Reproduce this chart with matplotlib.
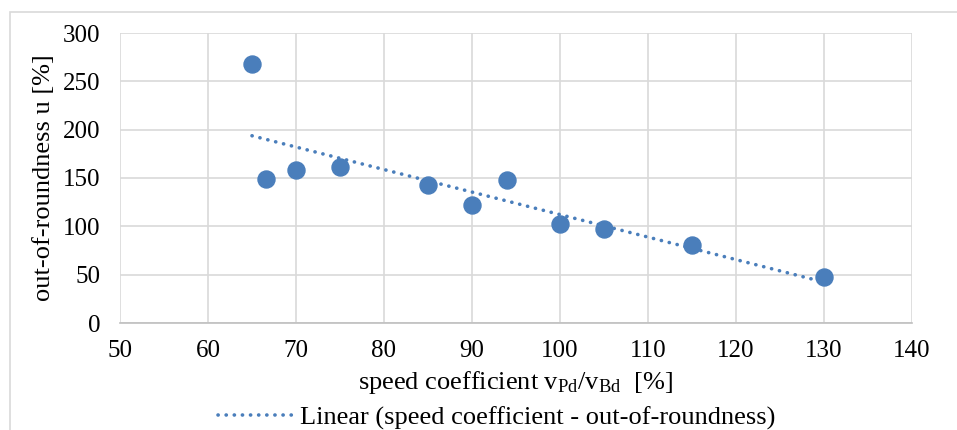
import numpy as np
import matplotlib
matplotlib.use('Agg')
import matplotlib.pyplot as plt
from matplotlib.patches import Rectangle

plt.rcParams['font.family'] = ['Liberation Serif', 'DejaVu Serif']
plt.rcParams['mathtext.fontset'] = 'custom'
plt.rcParams['mathtext.rm'] = 'Liberation Serif'
plt.rcParams['mathtext.it'] = 'Liberation Serif:italic'

# data
speed_coef = [65, 66.6, 70, 75, 85, 90, 94, 100, 105, 115, 130]
out_of_roundness = [268, 149, 158, 161, 143, 122, 148, 102, 97, 81, 48]

x_ticks = [50, 60, 70, 80, 90, 100, 110, 120, 130, 140]
y_ticks = [0, 50, 100, 150, 200, 250, 300]

BLUE = '#4a7ebb'
GRID = '#d9d9d9'

fig = plt.figure(figsize=(9.57, 4.3), dpi=100)
ax = fig.add_axes([120 / 957, 1 - 323 / 430, 792 / 957, 290 / 430])

ax.scatter(speed_coef, out_of_roundness, s=150, color=BLUE, zorder=3)

# linear trendline like the spreadsheet one
k, b = np.polyfit(speed_coef, out_of_roundness, 1)
xs = np.array([min(speed_coef), max(speed_coef)])
ax.plot(xs, k * xs + b, linestyle=(0, (0.05, 2.2)), color=BLUE, lw=2.6,
        dash_capstyle='round', zorder=2,
        label='Linear (speed coefficient - out-of-roundness)')

ax.set_xlim(50, 140)
ax.set_ylim(0, 300)
ax.set_xticks(x_ticks)
ax.set_yticks(y_ticks)
ax.grid(True, color=GRID, lw=1.2)
ax.set_axisbelow(True)
for side in ['top', 'right', 'left']:
    ax.spines[side].set_visible(False)
ax.spines['bottom'].set_color('#bfbfbf')
ax.spines['bottom'].set_linewidth(1.2)
ax.tick_params(length=0, labelsize=18)
ax.tick_params(axis='y', pad=14)
ax.tick_params(axis='x', pad=12)

ax.set_ylabel('out-of-roundness u [%]', fontsize=19, labelpad=6)
ax.set_xlabel(r'speed coefficient v$_{\mathrm{Pd}}$/v$_{\mathrm{Bd}}$  [%]',
              fontsize=19, labelpad=5)

ax.legend(loc='lower center', bbox_to_anchor=(497 / 957, 0.0),
          bbox_transform=fig.transFigure, frameon=False, fontsize=19,
          handlelength=2.8, handletextpad=0.3, borderpad=0,
          borderaxespad=0)

# chart area border
fig.patches.append(Rectangle((10 / 957, -0.05), 1.0, 1 - 12 / 430 + 0.05,
                             transform=fig.transFigure, fill=False,
                             edgecolor=GRID, lw=1.2))

fig.savefig('out.png', dpi=100)
